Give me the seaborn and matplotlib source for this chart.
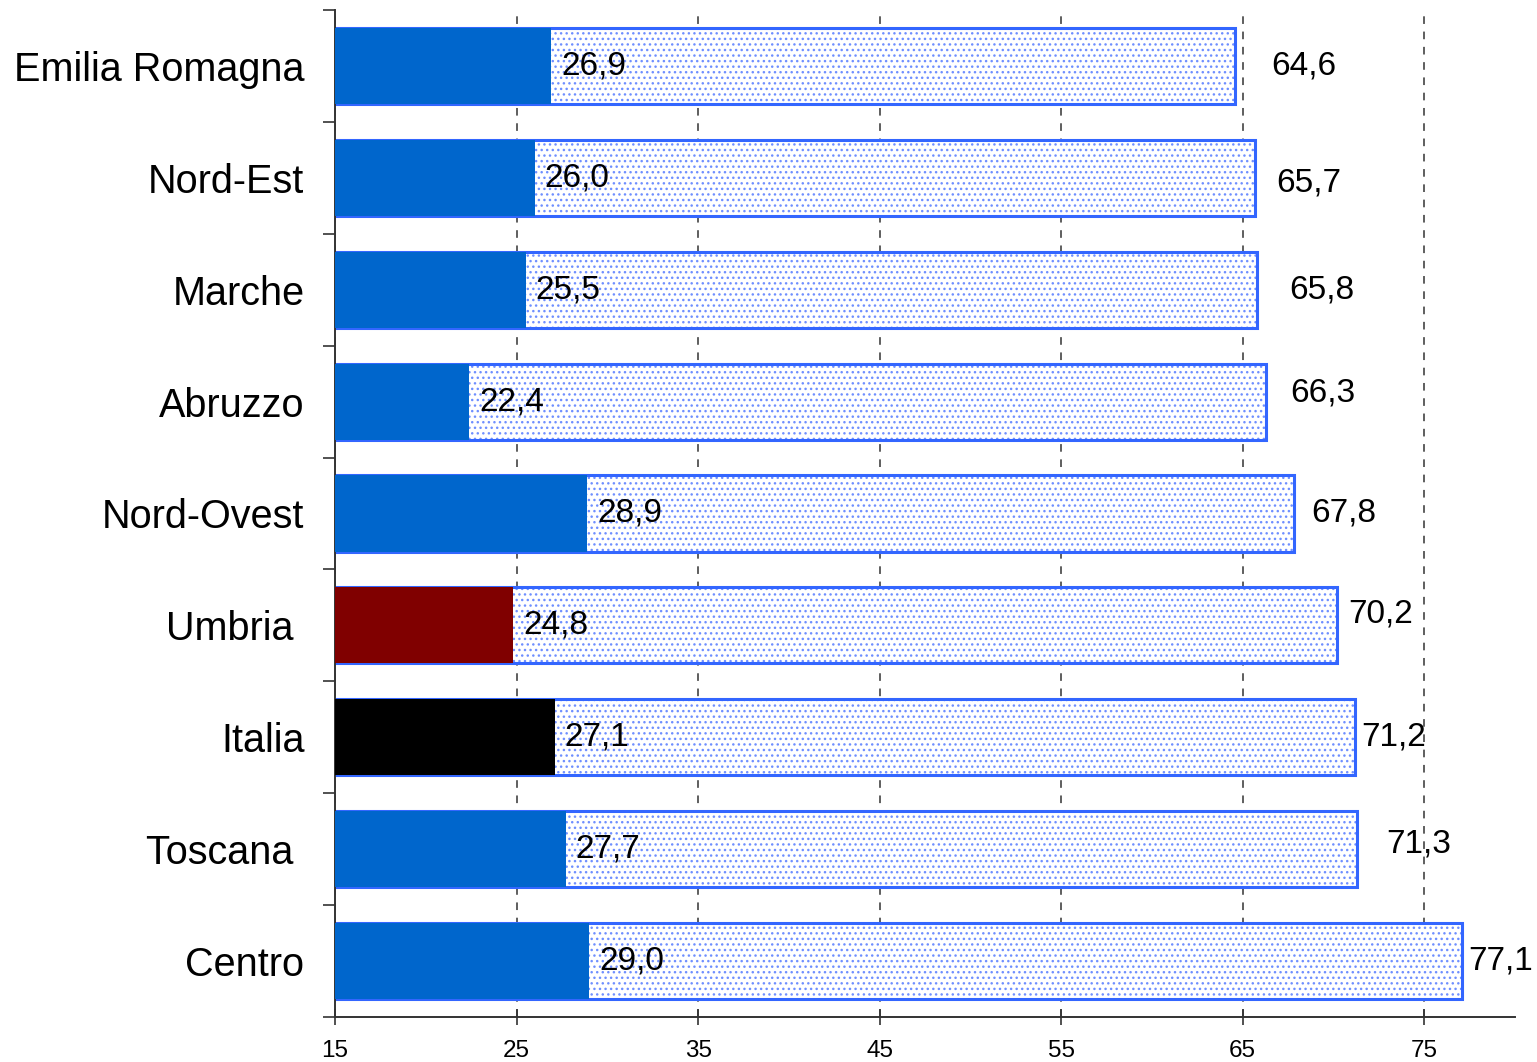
import numpy as np
import matplotlib
matplotlib.use("Agg")
import matplotlib.pyplot as plt
import seaborn as sns

# data
regions = ["Emilia Romagna", "Nord-Est", "Marche", "Abruzzo", "Nord-Ovest",
           "Umbria ", "Italia", "Toscana ", "Centro"]
first_val = [26.9, 26.0, 25.5, 22.4, 28.9, 24.8, 27.1, 27.7, 29.0]
total_val = [64.6, 65.7, 65.8, 66.3, 67.8, 70.2, 71.2, 71.3, 77.1]
bar_colors = ["#0066CC", "#0066CC", "#0066CC", "#0066CC", "#0066CC",
              "#800000", "#000000", "#0066CC", "#0066CC"]
x_ticks = [15, 25, 35, 45, 55, 65, 75]

# hand-placed total labels in the original (nudge in points: dx, dy)
label_nudge = [(26, 0), (15, -4), (23, 0), (17, 6), (13, 0),
               (8, 8), (4, 0), (21, 4), (4, 0)]

sns.set_theme(style="white")
plt.rcParams["font.family"] = ["Liberation Sans", "DejaVu Sans"]
plt.rcParams["hatch.linewidth"] = 1.0

fig = plt.figure(figsize=(15.37, 10.62), dpi=100)
ax = fig.add_axes([335 / 1537, 1 - 1017 / 1062, (1515 - 335) / 1537, (1017 - 10) / 1062])

# outer dotted bar (total): dots first, then the blue frame
sns.barplot(x=total_val, y=regions, color="white", saturation=1, width=0.68,
            edgecolor="#6F8FFF", linewidth=0, hatch="...", ax=ax, zorder=2)
sns.barplot(x=total_val, y=regions, fill=False, width=0.68,
            edgecolor="#3366FF", linewidth=2.2, ax=ax, zorder=2.5)
# solid bar (first value) on top
sns.barplot(x=first_val, y=regions, hue=regions, palette=bar_colors, saturation=1,
            width=0.68, linewidth=0, legend=False, ax=ax, zorder=3)

ax.set_xlim(15, 80)
ax.set_ylim(8.5, -0.5)

# value labels
for i, (a, t) in enumerate(zip(first_val, total_val)):
    ax.text(a + 0.55, i, f"{a:.1f}".replace(".", ","), va="center", ha="left",
            fontsize=24, color="black", zorder=4)
    ax.annotate(f"{t:.1f}".replace(".", ","), xy=(t, i), xytext=label_nudge[i],
                textcoords="offset points", va="center", ha="left",
                fontsize=24, color="black", zorder=4)

# axes styling
ax.set_xticks(x_ticks)
ax.set_xticklabels([str(v) for v in x_ticks], fontsize=17.5, color="black")
ax.tick_params(axis="x", direction="inout", length=11, width=1.2, color="#333333",
               pad=11, bottom=True)
ax.set_yticks(range(len(regions)))
ax.set_yticklabels(regions, fontsize=28.5, color="black")
ax.tick_params(axis="y", which="major", length=0, pad=22)
ax.set_yticks(np.arange(-0.5, len(regions), 1), minor=True)
ax.tick_params(axis="y", which="minor", direction="out", length=9, width=1.2,
               color="#333333", left=True)
ax.set_xlabel("")
ax.set_ylabel("")

ax.xaxis.grid(True, linestyle=(0, (5, 5)), color="#333333", linewidth=1.1)
ax.yaxis.grid(False)
ax.set_axisbelow(True)

for s in ["top", "right"]:
    ax.spines[s].set_visible(False)
for s in ["left", "bottom"]:
    ax.spines[s].set_color("#333333")
    ax.spines[s].set_linewidth(1.4)

fig.savefig("out.png", dpi=100)
